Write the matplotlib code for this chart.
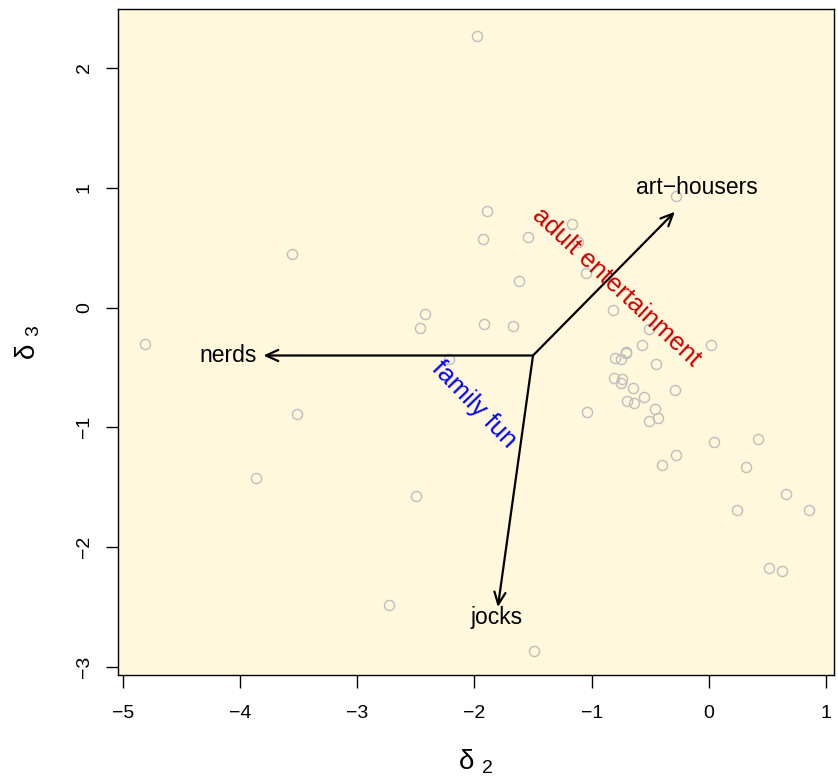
import numpy as np
from matplotlib import pyplot as plt

plt.rcParams['font.family'] = ['Liberation Sans', 'DejaVu Sans']
plt.rcParams['mathtext.fontset'] = 'custom'
plt.rcParams['mathtext.rm'] = 'Liberation Sans'
plt.rcParams['mathtext.it'] = 'Liberation Sans'

# scores on the 2nd and 3rd discriminant
d2 = [-4.81, -3.56, -3.51, -3.86, -2.50, -2.73, -1.49, -1.98, -1.89, -1.93,
      -1.54, -1.17, -1.12, -1.62, -1.05, -2.42, -2.46, -1.92, -1.67, -0.82,
      -0.51, 0.02, -0.57, -0.71, -0.71, -0.80, -0.75, -0.45, -2.22, -0.81,
      -0.74, -0.75, -0.65, -0.29, -0.55, -0.70, -0.64, -0.46, -0.43, -0.51,
      -1.04, 0.04, -0.28, -0.40, 0.42, 0.32, 0.66, 0.24, 0.85, 0.51,
      0.62, -0.28]
d3 = [-0.30, 0.45, -0.89, -1.42, -1.57, -2.48, -2.87, 2.27, 0.81, 0.57,
      0.59, 0.70, 0.55, 0.22, 0.29, -0.05, -0.17, -0.14, -0.15, -0.02,
      -0.18, -0.31, -0.31, -0.37, -0.38, -0.42, -0.43, -0.47, -0.43, -0.59,
      -0.60, -0.63, -0.67, -0.69, -0.75, -0.78, -0.80, -0.85, -0.92, -0.95,
      -0.87, -1.12, -1.23, -1.31, -1.10, -1.33, -1.56, -1.69, -1.69, -2.17,
      -2.20, 0.93]

# group centroid arrows
origin = (-1.50, -0.40)
groups = ["nerds", "art\u2212housers", "jocks"]
tips_x = [-3.80, -0.29, -1.80]
tips_y = [-0.40, 0.80, -2.50]
label_x = [-4.10, -0.10, -1.81]
label_y = [-0.40, 1.00, -2.59]

# direction labels
dir_names = ["adult entertainment", "family fun"]
dir_x = [-0.79, -2.00]
dir_y = [0.17, -0.81]
dir_angle = [-43, -46]
dir_colors = ["#CC0000", "#0000FF"]

px = 1 / 100
fig = plt.figure(figsize=(838 * px, 782 * px), dpi=100)
ax = fig.add_axes([0.1408, 0.1364, 0.8548, 0.8517])
ax.set_facecolor("#FFF8DC")

ax.plot(d2, d3, 'o', ms=7.3, mfc='none', mec='#BEBEBE', mew=1.0)

for i in range(len(groups)):
    ax.annotate("", xy=(tips_x[i], tips_y[i]), xytext=origin,
                arrowprops=dict(arrowstyle="->,head_length=0.55,head_width=0.25",
                                lw=1.6, color="black", mutation_scale=16,
                                shrinkA=0, shrinkB=0))
    ax.text(label_x[i], label_y[i], groups[i], ha='center', va='center', fontsize=16.5)

for i in range(len(dir_names)):
    ax.text(dir_x[i], dir_y[i], dir_names[i], ha='center', va='center',
            rotation=dir_angle[i], rotation_mode='anchor',
            color=dir_colors[i], fontsize=18.5)

ax.set_xlim(-5.04, 1.07)
ax.set_ylim(-3.07, 2.49)
ax.set_xticks(np.arange(-5, 2))
ax.set_yticks(np.arange(-3, 3))
ax.set_xticklabels([f"{v}".replace("-", "\u2212") for v in range(-5, 2)])
ax.set_yticklabels([f"{v}".replace("-", "\u2212") for v in range(-3, 3)],
                   rotation=90, va='center')
ax.tick_params(direction='out', length=9, width=1, labelsize=14)
ax.tick_params(axis='x', pad=12)
ax.tick_params(axis='y', pad=9)
for s in ax.spines.values():
    s.set_linewidth(1)

ax.text(0.5, -0.130, r"$\delta_{\ \,2}$", transform=ax.transAxes,
        ha='center', va='center', fontsize=20)
ax.text(-0.1256, 0.5, r"$\delta_{\ \,3}$", transform=ax.transAxes,
        ha='center', va='center', fontsize=20, rotation=90)

plt.savefig("out.png", dpi=100)
